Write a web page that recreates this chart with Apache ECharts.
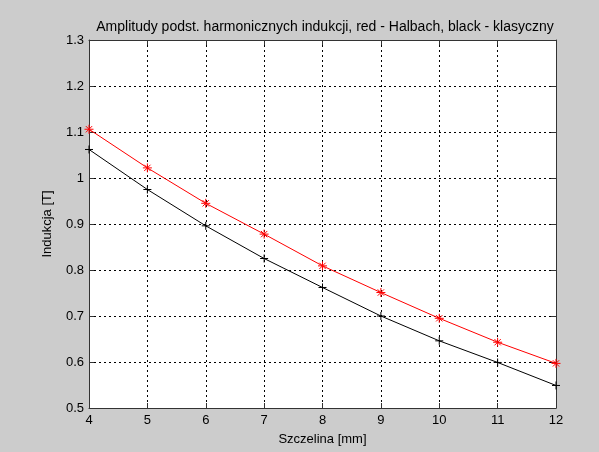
<!DOCTYPE html>
<html><head><meta charset="utf-8">
<script src="https://cdn.jsdelivr.net/npm/echarts@6/dist/echarts.min.js"></script>
<style>html,body{margin:0;padding:0;background:#cccccc;}#c{width:599px;height:452px;}</style>
</head><body><div id="c"></div>
<script>
const gapMm = [4, 5, 6, 7, 8, 9, 10, 11, 12];
const halbach = [1.106, 1.022, 0.945, 0.878, 0.809, 0.751, 0.695, 0.643, 0.597];
const klasyczny = [1.062, 0.975, 0.896, 0.825, 0.762, 0.700, 0.646, 0.599, 0.549];
const titleText = 'Amplitudy podst. harmonicznych indukcji, red - Halbach, black - klasyczny';
const xName = 'Szczelina [mm]';
const yName = 'Indukcja [T]';

const font = 'Arial, "Liberation Sans", sans-serif';
const chart = echarts.init(document.getElementById('c'), null, {renderer: 'canvas'});
const pairs = arr => gapMm.map((x, i) => [x, arr[i]]);
const plusSym = 'path://M-1,0L1,0M0,-1L0,1';
const starSym = 'path://M-1,0L1,0M0,-1L0,1M-0.7,-0.7L0.7,0.7M-0.7,0.7L0.7,-0.7';
const gridLine = {show: true, lineStyle: {color: '#000', type: [2, 3], width: 1}};
const axLine = {show: true, onZero: false, lineStyle: {color: '#333', width: 1}};
const tick = {show: true, inside: true, length: 5, lineStyle: {color: '#333'}};
chart.setOption({
  backgroundColor: '#cccccc',
  animation: false,
  title: {text: titleText, left: 320, top: 15, textAlign: 'center',
    textStyle: {fontFamily: font, fontSize: 14, fontWeight: 'normal', color: '#000'}},
  grid: {left: 89, right: 43, top: 40, bottom: 44, backgroundColor: '#fff', show: true, borderWidth: 0},
  xAxis: [
    {type: 'value', min: 4, max: 12, interval: 1, position: 'bottom',
     name: xName, nameLocation: 'middle', nameGap: 25,
     nameTextStyle: {fontFamily: font, fontSize: 13, color: '#000'},
     axisLine: axLine, axisTick: tick, splitLine: gridLine,
     axisLabel: {fontFamily: font, fontSize: 13, color: '#000', margin: 6}},
    {type: 'value', min: 4, max: 12, interval: 1, position: 'top',
     axisLine: axLine, axisTick: tick, splitLine: {show: false}, axisLabel: {show: false}}
  ],
  yAxis: [
    {type: 'value', min: 0.5, max: 1.3, interval: 0.1, position: 'left',
     name: yName, nameLocation: 'middle', nameGap: 35,
     nameTextStyle: {fontFamily: font, fontSize: 13, color: '#000'},
     axisLine: axLine, axisTick: tick, splitLine: gridLine,
     axisLabel: {fontFamily: font, fontSize: 13, color: '#000', margin: 5,
       formatter: v => String(Math.round(v * 10) / 10)}},
    {type: 'value', min: 0.5, max: 1.3, interval: 0.1, position: 'right',
     axisLine: axLine, axisTick: tick, splitLine: {show: false}, axisLabel: {show: false}}
  ],
  series: [
    {type: 'line', data: pairs(klasyczny), symbol: plusSym, symbolSize: 8,
     lineStyle: {color: '#000', width: 1}, itemStyle: {color: 'none', borderColor: '#000', borderWidth: 1},
     z: 3},
    {type: 'line', data: pairs(halbach), symbol: starSym, symbolSize: 9,
     lineStyle: {color: '#ff0000', width: 1}, itemStyle: {color: 'none', borderColor: '#ff0000', borderWidth: 1},
     z: 4}
  ]
});
</script></body></html>
